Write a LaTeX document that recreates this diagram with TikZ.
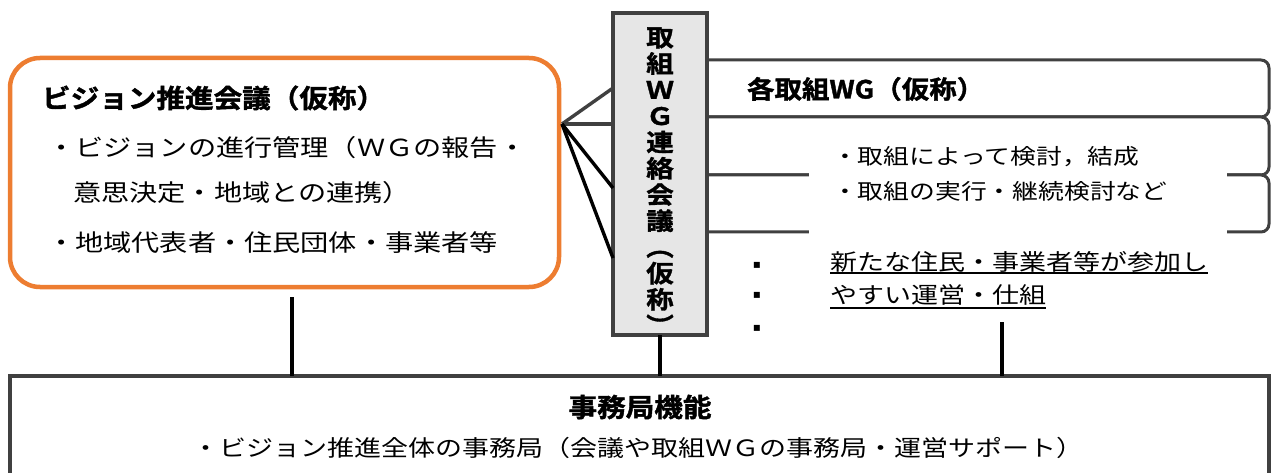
\documentclass[tikz,border=0pt]{standalone}
\usepackage{fontspec}
\setmainfont{Noto Sans CJK JP}[BoldFont={Noto Sans CJK JP Bold}]
\newfontfamily\jpw{Noto Sans CJK JP}[FakeStretch=1.2]
\newfontfamily\jpb{Noto Sans CJK JP Bold}[FakeStretch=1.1,FakeBold=1.5]
\newfontfamily\jpbw{Noto Sans CJK JP Bold}[FakeStretch=1.15,FakeBold=1.5]
\newfontfamily\dvs{DejaVu Sans}
\definecolor{lgray}{HTML}{404040}
\definecolor{midfill}{HTML}{E6E6E6}
\definecolor{orng}{HTML}{ED7D31}
\begin{document}
\begin{tikzpicture}[x=1pt,y=-1pt,
  every node/.style={inner sep=0pt,outer sep=0pt},
  gline/.style={draw=lgray,line width=3.4pt},
  bline/.style={draw=black,line width=3.4pt},
  card/.style={draw=lgray,line width=3pt,fill=white,rounded corners=8pt},
  body/.style={font=\jpw\fontsize{23.5}{28}\selectfont,anchor=west},
  small/.style={font=\jpw\fontsize{21.5}{26}\selectfont,anchor=west},
  ttl/.style={font=\jpb\fontsize{25}{28}\selectfont},
  blt/.style={font=\dvs\fontsize{12}{12}\selectfont},
  uline/.style={draw=black,line width=2.8pt}]
\useasboundingbox (0,0) rectangle (1272,473);

% stacked WG cards
\draw[card] (650,60) -- (1269,60) -- (1269,117) -- (650,117);
\draw[card] (650,117) -- (1269,117) -- (1269,175) -- (650,175);
\draw[card] (650,175) -- (1269,175) -- (1269,232) -- (650,232);
\fill[white] (809,138) rectangle (1227,246);
\node[ttl,anchor=west] (wgt) at (747,89) {各取組WG（仮称）};
\node[small] (r1) at (832,157) {・取組によって検討，結成};
\node[small] (r2) at (832,191) {・取組の実行・継続検討など};

% vision box
\node[draw=orng,line width=4.5pt,rounded corners=30pt,fill=white,
      minimum width=549pt,minimum height=229pt] (vis) at (284.5,172.5) {};
\node[ttl,anchor=west,font=\jpb\fontsize{26}{28}\selectfont] (vt) at (42,98) {ビジョン推進会議（仮称）};
\node[body] (v1) at (47,148) {・ビジョンの進行管理（ＷＧの報告・};
\node[body] (v2) at (73,193) {意思決定・地域との連携）};
\node[body] (v3) at (47,243) {・地域代表者・住民団体・事業者等};

% liaison box
\node[draw=lgray,line width=3.4pt,fill=midfill,minimum width=94pt,minimum height=322pt] (wg) at (660,174) {};
\node[align=center,font=\jpbw\fontsize{24}{26.2}\selectfont] (wgtx) at (660,181)
  {取\\組\\Ｗ\\Ｇ\\連\\絡\\会\\議\\︵\\仮\\称\\︶};

% fan lines
\coordinate (fan) at (562,124);
\draw[gline] (fan) -- (wg.west |- 0,88);
\draw[gline] (fan) -- (wg.west |- 0,124);
\draw[bline] (fan) -- (wg.west |- 0,188);
\draw[bline] (fan) -- (wg.west |- 0,258);

% bullets and underlined text
\node[blt] (b1) at (757,265) {▪};
\node[blt] (b2) at (757,295) {▪};
\node[blt] (b3) at (757,328) {▪};
\node[small,font=\jpw\fontsize{22.5}{26}\selectfont] (u1) at (830,262) {新たな住民・事業者等が参加し};
\node[small,font=\jpw\fontsize{22.5}{26}\selectfont] (u2) at (830,295) {やすい運営・仕組};
\draw[uline] (u1.west |- 0,273) -- (u1.east |- 0,273);
\draw[uline] (u2.west |- 0,308) -- (u2.east |- 0,308);

% secretariat box
\node[draw=lgray,line width=3.4pt,fill=white,minimum width=1259pt,minimum height=130pt] (sec) at (639.5,441) {};
\node[ttl,font=\jpb\fontsize{26}{28}\selectfont] (st) at (640,407) {事務局機能};
\node[font=\jpw\fontsize{22.5}{26}\selectfont] (s1) at (638,448) {・ビジョン推進全体の事務局（会議や取組ＷＧの事務局・運営サポート）};

% connectors to secretariat
\coordinate (c1) at (292,297);
\coordinate (c3) at (1002,322);
\draw[bline] (c1) -- (c1 |- sec.north);
\draw[bline] (wg.south) -- (wg.south |- sec.north);
\draw[bline] (c3) -- (c3 |- sec.north);
\end{tikzpicture}
\end{document}
